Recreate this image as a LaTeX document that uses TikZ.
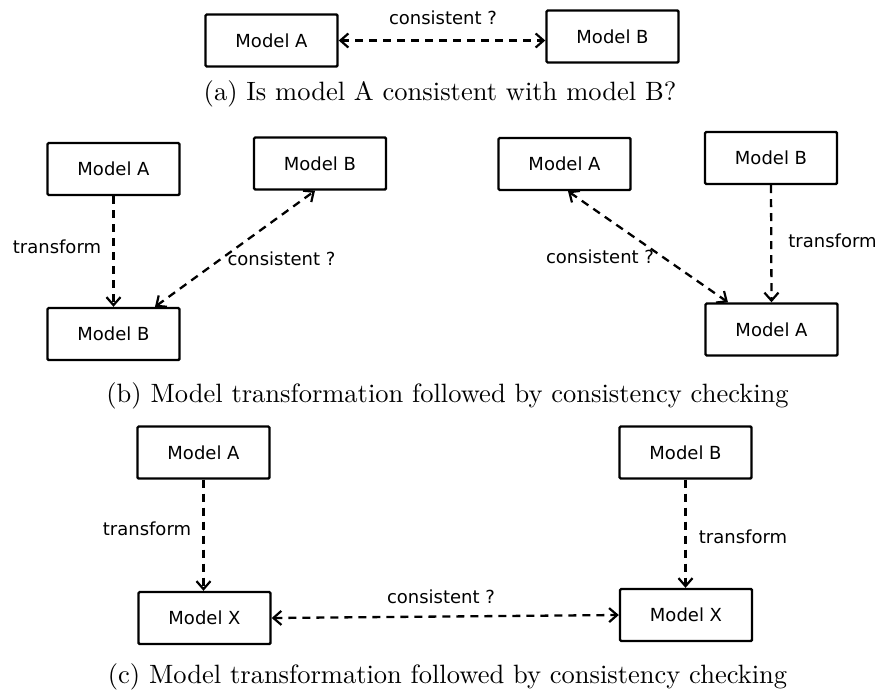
\documentclass[tikz,border=0pt]{standalone}
\usepackage{fontspec}
\newfontfamily\labelfont{DejaVu Sans}
\usetikzlibrary{arrows.meta}

\tikzset{
  model/.style={draw, line width=2.4pt, rounded corners=1.2pt,
    minimum width=132pt, minimum height=52pt, inner sep=0pt,
    font=\labelfont\fontsize{18}{20}\selectfont},
  link/.style={line width=2.3pt, dash pattern=on 8pt off 6pt,
    >={Straight Barb[length=8pt,width=14pt,line width=2.2pt]}},
  tag/.style={anchor=base, inner sep=0pt, font=\labelfont\fontsize{18}{20}\selectfont},
  caption/.style={anchor=base, inner sep=0pt, scale=2.65, font=\normalsize}
}

\begin{document}
\begin{tikzpicture}[x=1pt, y=-1pt]
  \useasboundingbox (0,0) rectangle (882,693);

  % (a) direct consistency check
  \node[model] (aA) at (271.5,40.5) {Model A};
  \node[model] (aB) at (612.5,36.5) {Model B};
  \draw[link,<->] (aA.east) -- (aA.east -| aB.west);
  \node[tag] (aC) at (443,25) {consistent ?};
  \node[caption] (capA) at (440,100) {(a) Is model A consistent with model B?};

  % (b) left: transform A into B, then compare
  \node[model] (bA)  at (113.5,169) {Model A};
  \node[model] (bB1) at (320,163.5) {Model B};
  \node[model] (bB2) at (113.5,334) {Model B};
  \draw[link,->] (bA.south) -- (bB2.north);
  \draw[link,<->] ([xshift=41.5pt]bB2.north) -- ([xshift=-5pt]bB1.south);
  \node[tag] (bT1) at (57,253) {transform};
  \node[tag] (bC1) at (281.5,265) {consistent ?};

  % (b) right: transform B into A, then compare
  \node[model] (bA1) at (564.5,164) {Model A};
  \node[model] (bB)  at (771,158) {Model B};
  \node[model] (bA2) at (771.5,329.5) {Model A};
  \draw[link,->] (bB.south) -- (bA2.north);
  \draw[link,<->] ([xshift=3.5pt]bA1.south) -- ([xshift=-43.5pt]bA2.north);
  \node[tag] (bT2) at (832.5,247) {transform};
  \node[tag] (bC2) at (600,263) {consistent ?};
  \node[caption] (capB) at (447.5,402) {(b) Model transformation followed by consistency checking};

  % (c) both models transformed into a common model X
  \node[model] (cA)  at (203.5,452.5) {Model A};
  \node[model] (cX1) at (204.5,618) {Model X};
  \node[model] (cB)  at (685.5,452.5) {Model B};
  \node[model] (cX2) at (686,615) {Model X};
  \draw[link,->] (cA.south) -- (cA.south |- cX1.north);
  \draw[link,->] (cB.south) -- (cB.south |- cX2.north);
  \draw[link,<->] (cX1.east) -- (cX2.west);
  \node[tag] (cT1) at (147,535) {transform};
  \node[tag] (cT2) at (743,543) {transform};
  \node[tag] (cC)  at (441,603) {consistent ?};
  \node[caption] (capC) at (447.5,683) {(c) Model transformation followed by consistency checking};
\end{tikzpicture}
\end{document}
